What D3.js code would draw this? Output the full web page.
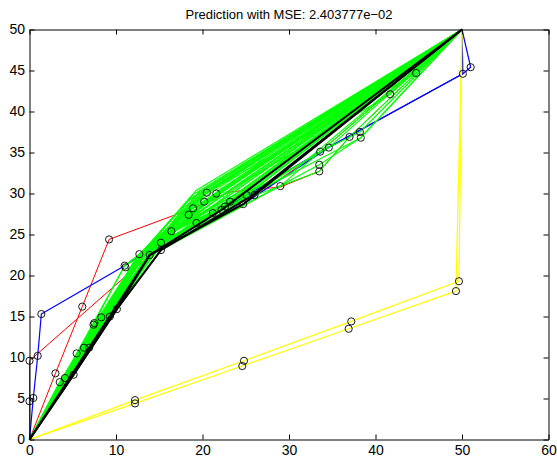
<!DOCTYPE html>
<html>
<head>
<meta charset="utf-8">
<script src="https://cdn.jsdelivr.net/npm/d3@7"></script>
<style>
  body { margin: 0; background: #fff; }
  svg { display: block; font-family: "Liberation Sans", Arial, Helvetica, sans-serif; }
  .axis text { font-size: 14px; fill: #000; }
  .axis path, .axis line { stroke: #000; }
</style>
</head>
<body>
<div id="svgDiv"></div>
<script>
// chart data
var titleText = "Prediction with MSE: 2.403777e\u221202";
var xTickValues = [0, 10, 20, 30, 40, 50, 60];
var yTickValues = [0, 5, 10, 15, 20, 25, 30, 35, 40, 45, 50];

// red trajectories
var redPaths = [
    [[0,0],[0,4.66],[0,9.6],[13.9,22.5],[24.7,28.7],[33.6,35.1],[50,50]],
    [[0,0],[3.0,8.07],[6.1,16.2],[9.2,24.4],[18.9,28.2],[23.2,30.2],[29.0,30.8],[33.5,32.7],[37.0,36.9],[50,50]]
];
// blue trajectories
var bluePaths = [
    [[0,0],[0.44,5.06],[0.95,10.2],[1.37,15.3],[11.0,21.2],[15.2,24.0],[24.7,28.7],[34.6,35.6],[50.1,44.6],[51.0,45.4],[50,50]],
    [[0,0],[13.9,22.5],[22.2,28.0],[33.6,35.1],[50.1,44.6],[50,50]]
];
// yellow trajectories
var yellowPaths = [
    [[0,0],[12.2,4.8],[24.8,9.6],[37.2,14.4],[49.65,19.3],[50,50]],
    [[0,0],[12.2,4.4],[24.6,8.96],[36.9,13.5],[49.3,18.1],[50,50]]
];
// green trajectories
var greenPaths = [
    [[0,0],[5.45,10.5],[11.0,21.2],[18.4,27.4],[50,50]],
    [[0,0],[7.4,14.0],[12.7,22.6],[20.5,30.1],[50,50]],
    [[0,0],[6.3,11.2],[12.7,22.6],[18.9,28.2],[50,50]],
    [[0,0],[8.3,14.9],[13.9,22.5],[20.2,29.0],[50,50]],
    [[0,0],[6.9,11.2],[13.9,22.5],[21.6,30.0],[50,50]],
    [[0,0],[9.3,15.0],[15.2,24.0],[23.2,29.0],[50,50]],
    [[0,0],[10.1,15.9],[15.2,23.1],[22.6,28.4],[50,50]],
    [[0,0],[4.1,7.5],[11.0,21.2],[19.3,26.4],[50,50]],
    [[0,0],[3.5,7.0],[12.7,22.6],[21.2,27.6],[50,50]],
    [[0,0],[5.1,7.9],[13.9,22.5],[22.2,28.0],[50,50]],
    [[0,0],[5.45,10.5],[15.2,24.0],[24.7,28.7],[50,50]],
    [[0,0],[7.4,14.0],[16.4,25.4],[25.1,29.8],[50,50]],
    [[0,0],[8.3,14.9],[16.4,25.4],[26.0,29.8],[50,50]],
    [[0,0],[6.3,11.2],[15.2,23.1],[29.0,30.9],[50,50]],
    [[0,0],[9.3,15.0],[13.9,22.5],[33.5,33.5],[38.3,36.8],[50,50]],
    [[0,0],[6.9,11.2],[15.2,24.0],[34.6,35.6],[50,50]],
    [[0,0],[10.1,15.9],[15.2,23.1],[33.6,35.1],[38.2,37.5],[50,50]],
    [[0,0],[3.5,7.0],[12.7,22.6],[18.4,27.4],[41.7,42.1],[50,50]],
    [[0,0],[4.1,7.5],[13.9,22.5],[20.5,30.1],[44.7,44.7],[50,50]],
    [[0,0],[7.0,12.6],[13.2,22.8],[19.3,30.4],[50,50]],
    [[0,0],[6.6,12.0],[12.4,22.0],[18.6,29.4],[50,50]],
    [[0,0],[7.8,13.5],[14.4,23.4],[20.0,28.5],[50,50]],
    [[0,0],[8.0,13.6],[14.0,23.0],[21.0,29.3],[50,50]],
    [[0,0],[6.0,10.8],[13.0,22.0],[19.8,29.6],[50,50]],
    [[0,0],[8.8,14.6],[14.6,23.6],[22.0,29.6],[50,50]],
    [[0,0],[7.2,12.2],[14.2,22.8],[23.8,29.4],[50,50]],
    [[0,0],[9.0,15.4],[15.8,24.8],[20.8,28.6],[50,50]],
    [[0,0],[5.8,10.0],[12.0,21.6],[17.6,27.0],[50,50]],
    [[0,0],[7.6,12.9],[15.0,24.4],[24.2,30.2],[50,50]],
    [[0,0],[8.6,14.2],[13.6,22.2],[22.8,29.8],[50,50]],
    [[0,0],[6.5,11.6],[14.8,23.8],[27.0,30.6],[38.3,36.8],[50,50]],
    [[0,0],[9.6,16.2],[16.0,25.0],[21.8,28.8],[50,50]],
    [[0,0],[5.6,9.8],[12.9,22.4],[19.0,29.0],[50,50]],
    [[0,0],[7.1,12.8],[13.4,23.2],[20.6,29.8],[50,50]],
    [[0,0],[8.4,14.4],[15.4,24.6],[23.4,30.0],[50,50]],
    [[0,0],[6.8,11.9],[12.2,21.8],[22.6,28.4],[33.5,32.7],[37.0,36.9],[50,50]],
    [[0,0],[6.2,11.4],[12.6,22.4],[18.2,29.0],[50,50]],
    [[0,0],[7.3,13.2],[13.1,22.9],[18.8,29.8],[50,50]],
    [[0,0],[7.9,14.1],[13.8,23.1],[19.6,30.2],[50,50]],
    [[0,0],[8.2,14.0],[14.3,23.5],[20.3,30.5],[50,50]],
    [[0,0],[6.4,11.5],[13.5,23.0],[21.0,30.6],[50,50]],
    [[0,0],[8.9,15.1],[14.9,24.0],[21.9,30.4],[50,50]],
    [[0,0],[7.7,13.4],[15.1,24.5],[22.4,30.3],[50,50]],
    [[0,0],[9.2,15.6],[15.6,25.0],[23.0,30.2],[50,50]],
    [[0,0],[6.1,10.9],[14.1,23.2],[17.9,28.4],[50,50]],
    [[0,0],[7.5,12.7],[14.7,23.9],[19.1,29.4],[50,50]],
    [[0,0],[8.5,14.5],[16.2,25.2],[24.6,30.4],[50,50]],
    [[0,0],[9.8,16.0],[16.6,25.6],[25.8,30.6],[50,50]],
    [[0,0],[5.9,10.4],[13.3,22.6],[26.6,31.0],[50,50]],
    [[0,0],[8.7,14.8],[15.9,24.9],[28.0,31.6],[50,50]],
    [[0,0],[6.7,12.1],[14.5,23.7],[30.4,32.6],[50,50]],
    [[0,0],[7.2,13.0],[12.8,22.7],[20.1,29.9],[50,50]]
];
// black trajectories
var blackPaths = [
    [[0,0],[5.1,7.9],[10.1,15.9],[13.9,22.5],[24.7,28.7],[50,50]],
    [[0,0],[6.9,11.2],[13.9,22.5],[22.2,28.0],[50,50]],
    [[0,0],[5.1,7.9],[10.1,15.9],[15.2,23.1],[25.5,29.6],[50,50]]
];
// circle markers
var markerPoints = [
    [0,4.66],[0,9.6],[0.44,5.06],[0.95,10.2],[1.37,15.3],[3.0,8.07],[6.1,16.2],[9.2,24.4],
    [11.0,21.2],[11.1,21.0],[12.7,22.6],[13.9,22.5],[15.2,24.0],[15.2,23.1],[16.4,25.4],
    [3.5,7.0],[4.1,7.5],[5.1,7.9],[5.45,10.5],[6.3,11.2],[6.9,11.2],[7.4,14.0],[7.5,14.2],
    [8.3,14.9],[9.3,15.0],[10.1,15.9],
    [12.2,4.8],[12.2,4.4],[24.8,9.6],[24.6,8.96],[37.2,14.4],[36.9,13.5],[49.65,19.3],[49.3,18.1],
    [51.0,45.4],[50.1,44.6],[44.7,44.7],[41.7,42.1],[38.2,37.5],[38.3,36.8],[37.0,36.9],
    [33.5,33.5],[33.5,32.7],[33.6,35.1],[34.6,35.6],[29.0,30.9],
    [18.4,27.4],[18.9,28.2],[19.3,26.4],[20.2,29.0],[20.5,30.1],[21.2,27.6],[21.6,30.0],
    [22.2,28.0],[22.6,28.4],[23.2,29.0],[24.7,28.7],[25.1,29.8],[26.0,29.8]
];

var svgWidth = 557, svgHeight = 457;
var plot = { left: 29.5, right: 548.5, top: 29.5, bottom: 439.5 };

var xScale = d3.scaleLinear().domain([0, 60]).range([plot.left, plot.right]);
var yScale = d3.scaleLinear().domain([0, 50]).range([plot.bottom, plot.top]);

var svg = d3.select("#svgDiv").append("svg")
    .attr("width", svgWidth)
    .attr("height", svgHeight);

var lineGen = d3.line()
    .x(d => xScale(d[0]))
    .y(d => yScale(d[1]));

function drawPaths(data, color, width)
{
    svg.append("g")
        .selectAll("path")
        .data(data).enter().append("path")
        .attr("d", lineGen)
        .attr("fill", "none")
        .attr("stroke", color)
        .attr("stroke-width", width)
        .attr("stroke-linejoin", "round");
}

// axes with inward ticks on all four sides
function drawAxes()
{
    svg.append("g").attr("class", "axis")
        .attr("transform", `translate(0,${plot.bottom})`)
        .call(d3.axisBottom(xScale).tickValues(xTickValues).tickSizeInner(-5).tickSizeOuter(0).tickPadding(6));
    svg.append("g").attr("class", "axis")
        .attr("transform", `translate(${plot.left},0)`)
        .call(d3.axisLeft(yScale).tickValues(yTickValues).tickSizeInner(-5).tickSizeOuter(0).tickPadding(4.5));
    svg.append("g").attr("class", "axis")
        .attr("transform", `translate(0,${plot.top})`)
        .call(d3.axisTop(xScale).tickValues(xTickValues).tickSizeInner(-5).tickSizeOuter(0).tickFormat(""));
    svg.append("g").attr("class", "axis")
        .attr("transform", `translate(${plot.right},0)`)
        .call(d3.axisRight(yScale).tickValues(yTickValues).tickSizeInner(-5).tickSizeOuter(0).tickFormat(""));
    svg.selectAll(".axis text").attr("font-family", null);
}

drawPaths(redPaths, "#ff0000", 1);
drawPaths(bluePaths, "#0000ff", 1.2);
drawPaths(yellowPaths, "#ffff00", 1.2);
drawPaths(greenPaths, "#00ff00", 1.1);
drawPaths(blackPaths, "#000000", 2);

svg.append("g")
    .selectAll("circle")
    .data(markerPoints).enter().append("circle")
    .attr("cx", d => xScale(d[0]))
    .attr("cy", d => yScale(d[1]))
    .attr("r", 3.6)
    .attr("fill", "none")
    .attr("stroke", "#000")
    .attr("stroke-width", 0.9);

drawAxes();

svg.append("text")
    .attr("x", (plot.left + plot.right) / 2)
    .attr("y", 19)
    .attr("text-anchor", "middle")
    .style("font-size", "13px")
    .text(titleText);
</script>
</body>
</html>
